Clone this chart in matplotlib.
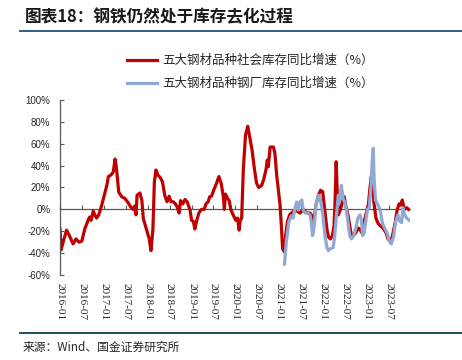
import matplotlib
matplotlib.use("Agg")
import matplotlib.pyplot as plt
from matplotlib.lines import Line2D
import pandas as pd

plt.rcParams['font.family'] = ['Noto Sans CJK SC', 'DejaVu Sans']

# -----------------------------
# Data (%)
# -----------------------------
social_dates = [
    '2016-01-01', '2016-01-10', '2016-02-01', '2016-02-25', '2016-03-19', '2016-04-19', '2016-05-13', '2016-06-07',
    '2016-07-01', '2016-07-25', '2016-08-22', '2016-09-04', '2016-09-16', '2016-10-04', '2016-10-16', '2016-11-01',
    '2016-11-19', '2016-12-13', '2017-01-04', '2017-01-25', '2017-02-07', '2017-03-01', '2017-03-19', '2017-04-04',
    '2017-04-16', '2017-05-04', '2017-05-28', '2017-06-25', '2017-07-22', '2017-08-13', '2017-09-01', '2017-09-13',
    '2017-09-25', '2017-10-04', '2017-10-28', '2017-11-13', '2017-11-25', '2017-12-10', '2017-12-28', '2018-01-13',
    '2018-01-28', '2018-02-13', '2018-02-25', '2018-03-10', '2018-03-28', '2018-04-16', '2018-05-04', '2018-05-22',
    '2018-06-10', '2018-06-28', '2018-07-13', '2018-08-01', '2018-08-19', '2018-09-04', '2018-09-19', '2018-10-01',
    '2018-10-19', '2018-11-07', '2018-11-25', '2018-12-19', '2019-01-01', '2019-01-16', '2019-01-28', '2019-02-13',
    '2019-03-04', '2019-03-25', '2019-04-16', '2019-05-01', '2019-05-19', '2019-06-01', '2019-06-16', '2019-07-04',
    '2019-07-28', '2019-08-16', '2019-09-04', '2019-09-22', '2019-10-01', '2019-10-10', '2019-10-28', '2019-11-10',
    '2019-11-25', '2019-12-13', '2020-01-04', '2020-01-19', '2020-02-01', '2020-02-10', '2020-02-22', '2020-03-07',
    '2020-03-25', '2020-04-13', '2020-05-01', '2020-05-19', '2020-06-07', '2020-06-25', '2020-07-13', '2020-08-07',
    '2020-08-25', '2020-09-13', '2020-09-22', '2020-10-01', '2020-10-16', '2020-11-13', '2020-11-25', '2020-12-10',
    '2020-12-22', '2021-01-07', '2021-01-19', '2021-01-28', '2021-02-13', '2021-02-22', '2021-03-10', '2021-03-28',
    '2021-04-25', '2021-05-22', '2021-06-22', '2021-07-19', '2021-08-16', '2021-09-13', '2021-10-01', '2021-10-16',
    '2021-11-01', '2021-11-22', '2021-12-10', '2021-12-28', '2022-01-16', '2022-02-01', '2022-02-13', '2022-03-01',
    '2022-03-19', '2022-04-01', '2022-04-10', '2022-04-19', '2022-04-28', '2022-05-07', '2022-05-25', '2022-06-10',
    '2022-06-25', '2022-07-07', '2022-07-28', '2022-08-10', '2022-08-25', '2022-09-10', '2022-10-01', '2022-10-19',
    '2022-11-01', '2022-11-16', '2022-12-01', '2022-12-22', '2023-01-13', '2023-01-25', '2023-02-10', '2023-02-19',
    '2023-02-27', '2023-03-16', '2023-04-04', '2023-04-22', '2023-05-13', '2023-06-07', '2023-06-25', '2023-07-16',
    '2023-08-01', '2023-08-22', '2023-09-10', '2023-09-25', '2023-10-07', '2023-10-22', '2023-11-07', '2023-11-28',
    '2023-12-13',
]
social_yoy = [
    -18, -37, -28, -19, -24, -31.6, -27, -30,
    -29, -18, -10, -7, -10, -1.5, -5, -8,
    -5, 3.7, 13, 22, 30, 31.5, 34, 46,
    37, 16, 11.6, 10, 6, 2, 0, 3,
    -5, 13, 15, 8, -8.6, -14, -21, -27,
    -37.7, -17.8, 25, 36, 31, 29, 25, 13,
    7, 12, 7, 7, 5, 2, -3.4, 8,
    5, 9, 7, -0.6, -10, -11, -18, -10,
    -3, 0, 0, 5, 7, 11.6, 12, 17.5,
    24, 30, 24, 12, 0, 14, 10, 8,
    -0.6, -5, -10, -8, -19, -10, -8, 37,
    68, 76, 65, 54, 37, 24, 20, 22,
    28, 37, 45, 39, 57, 57, 51, 31,
    19, 3.7, -17.8, -36, -39, -24, -11, -5,
    -2, -1, -3.4, 0, -3, -3.4, -6, -11,
    3.7, 13, 17.5, 16, -2, -18, -25, -27,
    -24, -15, 6.7, 43.5, 16, -5, 0, 6.7,
    11.6, 3.7, -6, -15, -24, -24, -21, -17,
    -18, -21, -15, -5, 5, 19, 34, 25,
    6.7, -8, -13, -15, -17, -21, -27, -30,
    -24, -13, 0, 5, 3.7, 8.6, 0, 1.5,
    0,
]

mill_dates = [
    '2021-02-13', '2021-03-01', '2021-03-22', '2021-04-10', '2021-04-25', '2021-05-10', '2021-05-25', '2021-06-07',
    '2021-06-22', '2021-07-07', '2021-07-19', '2021-08-04', '2021-08-25', '2021-09-13', '2021-09-22', '2021-10-04',
    '2021-10-10', '2021-10-22', '2021-11-01', '2021-11-22', '2021-12-04', '2021-12-22', '2022-01-04', '2022-01-16',
    '2022-02-01', '2022-02-13', '2022-03-01', '2022-03-25', '2022-04-07', '2022-04-22', '2022-05-07', '2022-05-16',
    '2022-06-01', '2022-06-16', '2022-06-28', '2022-07-13', '2022-07-28', '2022-08-10', '2022-08-25', '2022-09-13',
    '2022-10-01', '2022-10-16', '2022-11-04', '2022-11-16', '2022-11-25', '2022-12-07', '2022-12-22', '2023-01-04',
    '2023-01-19', '2023-02-04', '2023-02-13', '2023-02-22', '2023-03-01', '2023-03-13', '2023-03-28', '2023-04-19',
    '2023-05-10', '2023-05-28', '2023-06-19', '2023-07-04', '2023-07-22', '2023-08-10', '2023-08-28', '2023-09-16',
    '2023-10-01', '2023-10-16', '2023-10-28', '2023-11-10', '2023-11-28', '2023-12-19',
]
mill_yoy = [
    -50, -28.5, -11, -6, -8, 0.6, 6.7, -0.6,
    6.7, 8.6, -0.6, -3.4, -3.4, -5, -10, -24,
    -22, -11, 3.7, 13, 11.6, 1, -11, -24,
    -34.6, -37.7, -36, -35, -24, -5, 13, 7,
    22, 10, 7, 0, -13, -24, -27, -24,
    -17, -8, -5, -10, -24, -22, -11, 0,
    1.5, 22, 43.5, 56, 28, 8.6, 5, 0,
    -13, -17, -22, -28.5, -31.6, -25, -11, -5,
    -11, -12, 1.5, -5, -8, -10,
]

social_label = '五大钢材品种社会库存同比增速（%）'
mill_label = '五大钢材品种钢厂库存同比增速（%）'

tick_months = ['2016-01', '2016-07', '2017-01', '2017-07', '2018-01', '2018-07', '2019-01', '2019-07',
               '2020-01', '2020-07', '2021-01', '2021-07', '2022-01', '2022-07', '2023-01', '2023-07']
y_ticks = [100, 80, 60, 40, 20, 0, -20, -40, -60]

# -----------------------------
# Plot
# -----------------------------
W, H = 462, 360
fig = plt.figure(figsize=(W / 100, H / 100), dpi=100)
ax = fig.add_axes([60 / W, 1 - 275 / H, 350 / W, 175 / H])

axis_color = '#595959'

ax.plot(pd.to_datetime(social_dates), social_yoy, color='#C00000', lw=2.3, label=social_label,
        solid_joinstyle='round')
ax.plot(pd.to_datetime(mill_dates), mill_yoy, color='#8FA9D4', lw=2.3, label=mill_label,
        solid_joinstyle='round')

ax.set_xlim(pd.Timestamp('2016-01-01'), pd.Timestamp('2023-12-25'))
ax.set_ylim(-60, 100)

for side in ['top', 'right', 'bottom']:
    ax.spines[side].set_visible(False)
ax.spines['left'].set_color(axis_color)
ax.spines['left'].set_linewidth(0.9)

ax.set_yticks(y_ticks)
ax.set_yticklabels([f'{v}%' for v in y_ticks], family='Liberation Sans', fontsize=7, color='#262626')
ax.tick_params(axis='y', direction='in', length=3, width=0.8, color=axis_color, pad=7)

tick_dates = pd.to_datetime([m + '-01' for m in tick_months])
ax.set_xticks(tick_dates)
ax.set_xticklabels(tick_months, rotation=270, family='Liberation Serif', fontsize=8, color='#262626')
ax.tick_params(axis='x', length=0, pad=6)

# zero line with tick marks pointing up
zero_pos = (0 - y_ticks[-1]) / (y_ticks[0] - y_ticks[-1])
sec = ax.secondary_xaxis(zero_pos)
sec.set_xticks(tick_dates)
sec.tick_params(direction='in', length=3, width=0.8, color=axis_color, labelbottom=False, labeltop=False)
for s in sec.spines.values():
    s.set_color(axis_color)
    s.set_linewidth(0.9)

fig.legend(loc='center left', bbox_to_anchor=(127 / W, 1 - 72 / H), frameon=False,
           borderpad=0, borderaxespad=0, handlelength=2.4, handletextpad=0.4,
           labelspacing=0.78, fontsize=9, labelcolor='#262626')

# header / footer
fig.text(25 / W, 1 - 17 / H, '图表18：钢铁仍然处于库存去化过程', fontsize=12, fontweight='bold',
         color='#1a1a1a', va='center', ha='left')
fig.add_artist(Line2D([20 / W, 1], [1 - 31 / H, 1 - 31 / H], transform=fig.transFigure,
                      color='#2F5F80', lw=1.4))
fig.add_artist(Line2D([20 / W, 1], [1 - 333 / H, 1 - 333 / H], transform=fig.transFigure,
                      color='#1F4E6E', lw=1.4))
fig.text(23 / W, 1 - 347 / H, '来源：Wind、国金证券研究所', fontsize=8.5, color='#262626',
         va='center', ha='left')

fig.savefig('out.png', dpi=100)
